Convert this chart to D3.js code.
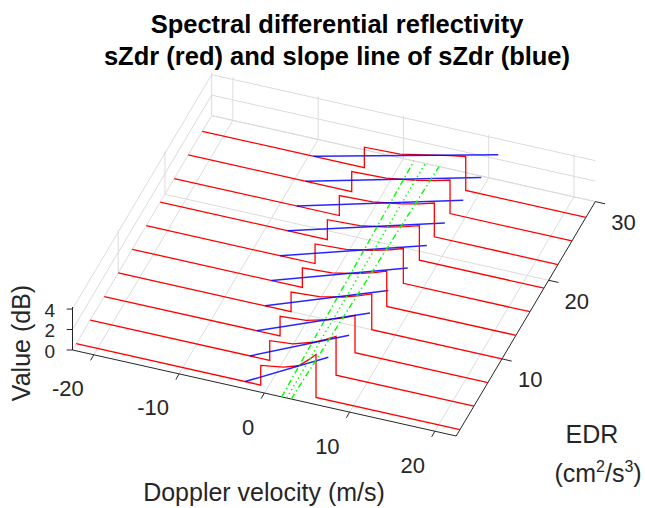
<!DOCTYPE html>
<html>
<head>
<meta charset="utf-8">
<script src="https://cdn.jsdelivr.net/npm/d3@7"></script>
<style>
  body { margin: 0; background: #ffffff; }
  svg { display: block; font-family: "Liberation Sans", Arial, Helvetica, sans-serif; }
</style>
</head>
<body>
<svg id="chart" width="645" height="508"></svg>
<script>
// Axis limits and ticks: Doppler velocity (m/s), EDR (cm^2/s^3), value (dB)
const velocityLimits = [-22.5, 22.5];
const edrLimits = [0.2, 30];
const valueLimits = [0, 4.2];
const velocityTicks = [-20, -10, 0, 10, 20];
const edrTicks = [10, 20, 30];
const valueTicks = [0, 2, 4];

// EDR of each spectrum
const edrLevels = [1, 4, 7, 10, 13, 16, 19, 22, 25, 28];

// sZdr inside the spectral band (zero outside it): velocities and values, one row per EDR
const bandVelocity = [
  [-0.86, 1.80, 3.56, 4.73, 5.62],
  [-1.45, 1.27, 3.61, 5.16, 6.33],
  [-1.88, 1.20, 3.83, 5.59, 6.91],
  [-2.23, 1.08, 3.92, 5.81, 7.23],
  [-2.55, 0.92, 3.89, 5.87, 7.35],
  [-2.70, 0.92, 4.03, 6.10, 7.65],
  [-2.90, 0.88, 4.11, 6.27, 7.89],
  [-3.14, 0.76, 4.10, 6.33, 8.00],
  [-3.33, 0.71, 4.16, 6.47, 8.20],
  [-3.49, 0.70, 4.60, 6.60, 8.40]
];
const bandSzdr = [
  [1.92, 2.25, 2.71, 3.50, 4.20],
  [1.92, 2.11, 2.71, 3.27, 3.80],
  [1.92, 2.09, 2.65, 3.17, 3.65],
  [1.92, 2.08, 2.58, 3.06, 3.50],
  [1.92, 2.07, 2.56, 3.02, 3.45],
  [1.92, 2.07, 2.54, 2.99, 3.40],
  [1.94, 2.07, 2.53, 2.97, 3.38],
  [1.95, 2.06, 2.50, 2.91, 3.30],
  [1.96, 2.06, 2.49, 2.90, 3.28],
  [2.00, 2.10, 2.74, 3.05, 3.30]
];

// Slope line of sZdr for each EDR: value = slope * velocity + intercept
const slopeDbPerMs = [0.430, 0.361, 0.316, 0.291, 0.263, 0.244, 0.228, 0.215, 0.204, 0.194];
const interceptDb = [1.16, 1.36, 1.46, 1.53, 1.62, 1.66, 1.72, 1.75, 1.78, 1.83];

// Mean velocity and band edges drawn on the floor across EDR
const guideEdr = [0.2, 30];
const guideLower = [2.03, 1.23];
const guideCentre = [2.62, 2.55];
const guideUpper = [3.15, 4.17];

// ---------------------------------------------------------------------------
// Oblique 3-D view: each data axis maps to a fixed screen vector
const origin = [72.5, 350];
const axisVecX = [383.7, 86];
const axisVecY = [139.1, -234.4];
const axisVecZ = [0, -43];

const sx = d3.scaleLinear().domain(velocityLimits).range([0, 1]);
const sy = d3.scaleLinear().domain(edrLimits).range([0, 1]);
const sz = d3.scaleLinear().domain(valueLimits).range([0, 1]);

function project(v, e, z) {
  const a = sx(v), b = sy(e), c = sz(z);
  return [
    origin[0] + a * axisVecX[0] + b * axisVecY[0] + c * axisVecZ[0],
    origin[1] + a * axisVecX[1] + b * axisVecY[1] + c * axisVecZ[1]
  ];
}
const path3 = d3.line().x(d => project(d[0], d[1], d[2])[0]).y(d => project(d[0], d[1], d[2])[1]);

const svg = d3.select("#chart");
const [vMin, vMax] = velocityLimits, [eMin, eMax] = edrLimits, [zMin, zMax] = valueLimits;

// ---- grid on the floor and the two back walls
const grid = svg.append("g").attr("fill", "none").attr("stroke", "#dcdcdc").attr("stroke-width", 1);
const gridSegs = [];
velocityTicks.forEach(v => {
  gridSegs.push([[v, eMin, zMin], [v, eMax, zMin]]);
  gridSegs.push([[v, eMax, zMin], [v, eMax, zMax]]);
});
edrTicks.forEach(e => {
  gridSegs.push([[vMin, e, zMin], [vMax, e, zMin]]);
  gridSegs.push([[vMin, e, zMin], [vMin, e, zMax]]);
});
valueTicks.forEach(z => {
  gridSegs.push([[vMin, eMax, z], [vMax, eMax, z]]);
  gridSegs.push([[vMin, eMin, z], [vMin, eMax, z]]);
});
grid.selectAll("path").data(gridSegs).join("path").attr("d", path3);

// ---- axis lines, ticks and tick labels
const axisColor = "#262626";
const axes = svg.append("g").attr("stroke", axisColor).attr("stroke-width", 1).attr("fill", "none");
axes.append("path").attr("d", path3([[vMin, eMin, zMin], [vMax, eMin, zMin]]));
axes.append("path").attr("d", path3([[vMax, eMin, zMin], [vMax, eMax, zMin]]));
axes.append("path").attr("d", path3([[vMin, eMin, zMin], [vMin, eMin, zMax]]));

const labels = svg.append("g").attr("fill", axisColor).attr("font-size", 22);

velocityTicks.forEach(v => {
  const p = project(v, eMin, zMin);
  axes.append("line").attr("x1", p[0]).attr("y1", p[1])
    .attr("x2", p[0] - 3.2).attr("y2", p[1] + 5.6);
  labels.append("text").attr("x", p[0] - 10).attr("y", p[1] + 34)
    .attr("text-anchor", "end").attr("dominant-baseline", "central").text(String(v));
});
edrTicks.forEach(e => {
  const p = project(vMax, e, zMin);
  axes.append("line").attr("x1", p[0]).attr("y1", p[1])
    .attr("x2", p[0] + 9.8).attr("y2", p[1] + 2.2);
  labels.append("text").attr("x", p[0] + 16).attr("y", p[1] + 21)
    .attr("text-anchor", "start").attr("dominant-baseline", "central").text(String(e));
});
valueTicks.forEach(z => {
  const p = project(vMin, eMin, z);
  axes.append("line").attr("x1", p[0]).attr("y1", p[1])
    .attr("x2", p[0] - 5.8).attr("y2", p[1]);
  labels.append("text").attr("x", 55).attr("y", p[1] + 1).attr("font-size", 19)
    .attr("text-anchor", "end").attr("dominant-baseline", "central").text(String(z));
});

// ---- sZdr spectra (red) and their slope lines (blue)
const spectra = svg.append("g").attr("fill", "none");
edrLevels.forEach((e, i) => {
  const vel = bandVelocity[i], val = bandSzdr[i];
  const pts = [[vMin, e, 0], [vel[0], e, 0]];
  vel.forEach((v, k) => pts.push([v, e, val[k]]));
  pts.push([vel[vel.length - 1], e, 0], [vMax, e, 0]);
  spectra.append("path").attr("d", path3(pts))
    .attr("stroke", "#ff0000").attr("stroke-width", 1.3);

  // slope line kept inside the value limits of the box
  const s = slopeDbPerMs[i], b = interceptDb[i];
  const vStart = Math.max(vMin, (zMin - b) / s);
  const vEnd = Math.min(vMax, (zMax - b) / s);
  spectra.append("path").attr("d", path3([[vStart, e, s * vStart + b], [vEnd, e, s * vEnd + b]]))
    .attr("stroke", "#0000ff").attr("stroke-width", 1.5).attr("stroke-opacity", 0.85);
});

// ---- guide lines on the floor (green)
const guides = svg.append("g").attr("fill", "none").attr("stroke", "#00ff00").attr("stroke-width", 1.4);
const guidePts = arr => guideEdr.map((e, k) => [arr[k], e, 0]);
guides.append("path").attr("d", path3(guidePts(guideLower))).attr("stroke-dasharray", "6,3,1.5,3");
guides.append("path").attr("d", path3(guidePts(guideUpper))).attr("stroke-dasharray", "6,3,1.5,3");
guides.append("path").attr("d", path3(guidePts(guideCentre))).attr("stroke-dasharray", "1.5,3");

// ---- axis titles
const titles = svg.append("g").attr("fill", axisColor).attr("font-size", 25);
titles.append("text").attr("x", 264).attr("y", 501).attr("text-anchor", "middle")
  .text("Doppler velocity (m/s)");
titles.append("text").attr("transform", "translate(30,343) rotate(-90)")
  .attr("text-anchor", "middle").text("Value (dB)");
titles.append("text").attr("x", 592).attr("y", 443).attr("text-anchor", "middle").text("EDR");
const unit = titles.append("text").attr("x", 598).attr("y", 482).attr("text-anchor", "middle");
unit.append("tspan").text("(cm");
unit.append("tspan").attr("font-size", 16).attr("dy", -10).text("2");
unit.append("tspan").attr("dy", 10).text("/s");
unit.append("tspan").attr("font-size", 16).attr("dy", -10).text("3");
unit.append("tspan").attr("dy", 10).text(")");

// ---- chart title
const head = svg.append("g").attr("fill", "#000000").attr("font-size", 25.5)
  .attr("font-weight", "bold").attr("text-anchor", "middle");
head.append("text").attr("x", 337).attr("y", 33).text("Spectral differential reflectivity");
head.append("text").attr("x", 337).attr("y", 65).text("sZdr (red) and slope line of sZdr (blue)");
</script>
</body>
</html>
